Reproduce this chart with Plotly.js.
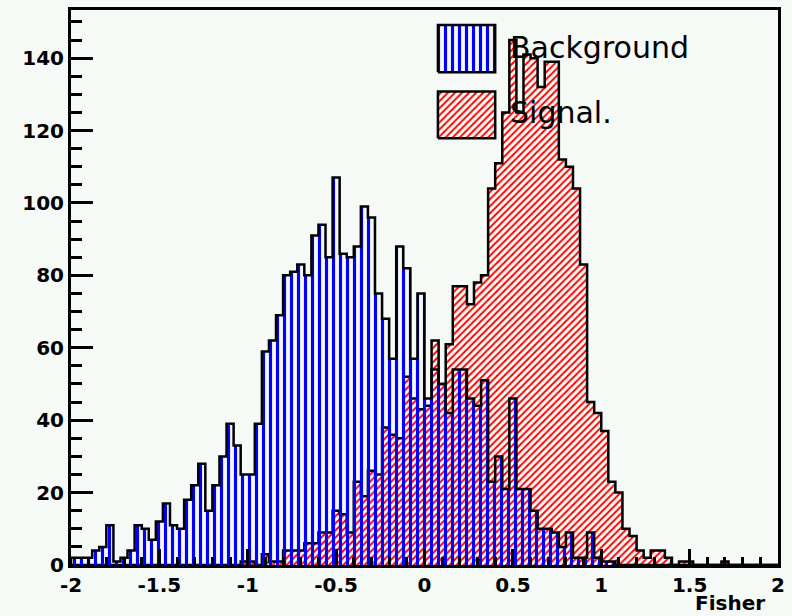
<!DOCTYPE html>
<html>
<head>
<meta charset="utf-8">
<script src="https://cdn.plot.ly/plotly-3.0.1.min.js"></script>
<style>
  html, body { margin: 0; padding: 0; background: #f5faf6; }
  #chart { width: 792px; height: 616px; }
</style>
</head>
<body>
<div id="chart"></div>
<script>
// Fisher discriminant output, 100 bins from -2 to 2
const binLow = -2;
const binWidth = 0.04;

const background = [
  2, 2, 2, 4, 5, 11, 1, 2, 4, 11,
  10, 7, 12, 17, 11, 10, 18, 22, 28, 15,
  22, 30, 39, 33, 25, 25, 39, 59, 62, 69,
  80, 81, 83, 80, 91, 94, 85, 107, 86, 85,
  88, 99, 96, 75, 68, 57, 88, 82, 57, 75,
  46, 54, 50, 42, 54, 54, 46, 44, 51, 23,
  30, 21, 46, 21, 21, 15, 10, 10, 9, 5,
  9, 2, 2, 9, 2, 1, 1, 0, 0, 0,
  0, 0, 0, 0, 0, 0, 0, 0, 0, 0,
  0, 0, 0, 0, 0, 0, 0, 0, 0, 0
];

const signal = [
  0, 0, 0, 0, 0, 0, 0, 0, 0, 0,
  0, 0, 0, 0, 0, 0, 0, 0, 0, 0,
  0, 0, 0, 0, 1, 1, 0, 3, 1, 1,
  4, 4, 4, 6, 6, 9, 9, 15, 14, 9,
  23, 19, 26, 25, 38, 36, 35, 52, 46, 43,
  44, 62, 50, 61, 77, 77, 72, 78, 80, 104,
  111, 125, 145, 125, 141, 140, 132, 139, 139, 112,
  110, 104, 83, 45, 42, 37, 23, 20, 10, 8,
  4, 2, 4, 4, 2, 0, 1, 1, 0, 0,
  0, 0, 1, 0, 0, 0, 0, 0, 0, 0
];

const seriesNames = ['Background', 'Signal.'];
const xTickVals = [-2, -1.5, -1, -0.5, 0, 0.5, 1, 1.5, 2];
const xTickText = ['-2', '-1.5', '-1', '-0.5', '0', '0.5', '1', '1.5', '2'];
const xTitle = 'Fisher';

// Step outline (x at bin edges) so the histogram is drawn with shape 'hv'
function stepOutline(counts) {
  const x = [binLow];
  const y = [0];
  for (let i = 0; i < counts.length; i++) {
    x.push(binLow + i * binWidth);
    y.push(counts[i]);
  }
  x.push(binLow + counts.length * binWidth);
  y.push(0);
  return { x, y };
}

const blueHatch = { shape: '|', size: 7, solidity: 0.45, fgcolor: '#0000ff', fillmode: 'replace' };
const redHatch = { shape: '/', size: 5, solidity: 0.38, fgcolor: '#ff0000', fillmode: 'replace' };

const sigStep = stepOutline(signal);
const bkgStep = stepOutline(background);

const traces = [
  {
    type: 'scatter', mode: 'lines', name: seriesNames[1],
    x: sigStep.x, y: sigStep.y,
    line: { shape: 'hv', color: '#000000', width: 2.5 },
    fill: 'tozeroy', fillcolor: '#ff0000', fillpattern: redHatch,
    hoverinfo: 'skip', showlegend: false
  },
  {
    type: 'scatter', mode: 'lines', name: seriesNames[0],
    x: bkgStep.x, y: bkgStep.y,
    line: { shape: 'hv', color: '#000000', width: 2.5 },
    fill: 'tozeroy', fillcolor: '#0000ff', fillpattern: blueHatch,
    hoverinfo: 'skip', showlegend: false
  }
];

// Legend key boxes, placed in a unit frame laid over the plot area
const keyBoxes = [
  { x0: 0.519, x1: 0.600, y0: 0.888, y1: 0.973, pattern: blueHatch, color: '#0000ff' },
  { x0: 0.519, x1: 0.600, y0: 0.769, y1: 0.853, pattern: redHatch, color: '#ff0000' }
];
const keyText = [
  { x: 0.618, y: 0.933 },
  { x: 0.618, y: 0.815 }
];

keyBoxes.forEach(b => {
  traces.push({
    type: 'scatter', mode: 'lines', xaxis: 'x2', yaxis: 'y2',
    x: [b.x0, b.x1, b.x1, b.x0, b.x0],
    y: [b.y0, b.y0, b.y1, b.y1, b.y0],
    fill: 'toself', fillcolor: b.color, fillpattern: b.pattern,
    line: { color: '#000000', width: 2.5 },
    hoverinfo: 'skip', showlegend: false
  });
});

const tickFont = { family: 'DejaVu Sans', size: 20, weight: 'bold', color: '#000000' };

const annotations = seriesNames.map((name, i) => ({
  text: name, xref: 'paper', yref: 'paper',
  x: keyText[i].x, y: keyText[i].y, xanchor: 'left', yanchor: 'middle',
  showarrow: false,
  font: { family: 'DejaVu Sans', size: 30, color: '#000000' }
}));
annotations.push({
  text: xTitle, xref: 'paper', yref: 'paper',
  x: 0.983, y: -0.0915, xanchor: 'right', yanchor: 'bottom',
  showarrow: false, borderpad: 0,
  font: { family: 'DejaVu Sans', size: 20, weight: 'bold', color: '#000000' }
});

const layout = {
  width: 792, height: 616,
  margin: { l: 71, r: 14, t: 10, b: 51 },
  paper_bgcolor: '#f5faf6',
  plot_bgcolor: '#f5faf6',
  showlegend: false,
  xaxis: {
    range: [-2, 2],
    showgrid: false, zeroline: false,
    showline: true, linecolor: '#000000', linewidth: 3, mirror: true,
    ticks: 'inside', ticklen: 16, tickwidth: 3, tickcolor: '#000000',
    tickmode: 'array', tickvals: xTickVals, ticktext: xTickText,
    tickfont: tickFont,
    minor: { ticks: 'inside', ticklen: 8, tickwidth: 3, tickcolor: '#000000', dtick: 0.1, tick0: -2, showgrid: false }
  },
  yaxis: {
    range: [0, 153.3],
    showgrid: false, zeroline: false,
    showline: true, linecolor: '#000000', linewidth: 3, mirror: true,
    ticks: 'inside', ticklen: 22, tickwidth: 3, tickcolor: '#000000',
    tickmode: 'linear', tick0: 0, dtick: 20,
    tickfont: tickFont,
    minor: { ticks: 'inside', ticklen: 11, tickwidth: 3, tickcolor: '#000000', dtick: 5, tick0: 0, showgrid: false }
  },
  xaxis2: { overlaying: 'x', anchor: 'y2', range: [0, 1], visible: false, fixedrange: true },
  yaxis2: { overlaying: 'y', anchor: 'x2', range: [0, 1], visible: false, fixedrange: true },
  annotations: annotations
};

Plotly.newPlot('chart', traces, layout, { staticPlot: true, displayModeBar: false });
</script>
</body>
</html>
